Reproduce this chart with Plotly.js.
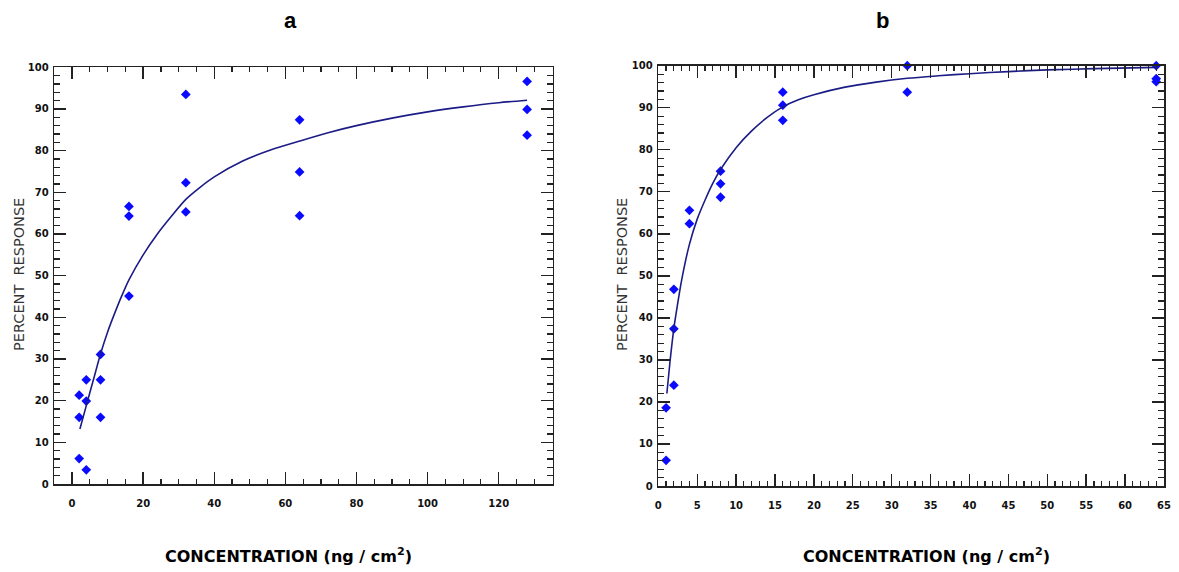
<!DOCTYPE html>
<html>
<head>
<meta charset="utf-8">
<script src="https://cdn.plot.ly/plotly-3.0.1.min.js"></script>
<style>
  html, body { margin: 0; padding: 0; background: #fff; }
  #chart { width: 1179px; height: 572px; }
</style>
</head>
<body>
<div id="chart"></div>
<script>
// Panel a data (measured points)
const aConc = [2, 2, 2, 4, 4, 4, 8, 8, 8, 16, 16, 16, 32, 32, 32, 64, 64, 64, 128, 128, 128];
const aResp = [21.3, 16, 6.1, 25, 19.9, 3.4, 31.1, 25, 16, 66.6, 64.3, 45.1, 93.5, 72.3, 65.3, 87.4, 74.9, 64.4, 96.6, 89.9, 83.7];
// Panel a fitted curve
const aFitX = [2.2, 4, 6, 8, 10, 12, 14, 16, 20, 24, 28, 32, 36, 40, 48, 56, 64, 72, 80, 90, 100, 110, 120, 128];
const aFitY = [13.2, 18.8, 25, 31.2, 36.5, 41, 45.2, 49, 55, 60, 64.3, 68.3, 71.2, 73.7, 77.5, 80.2, 82.3, 84.3, 86.0, 87.8, 89.3, 90.5, 91.5, 92.1];

// Panel b data (measured points)
const bConc = [1, 1, 2, 2, 2, 4, 4, 8, 8, 8, 16, 16, 16, 32, 32, 64, 64, 64];
const bResp = [18.6, 6.1, 46.8, 37.4, 24.0, 65.6, 62.4, 74.9, 71.9, 68.7, 93.7, 90.6, 87.0, 100, 93.7, 100, 96.9, 96.2];
// Panel b fitted curve
const bFitX = [1.1, 1.5, 2, 2.5, 3, 4, 5, 6, 7, 8, 10, 12, 14, 16, 18, 20, 24, 28, 32, 36, 40, 45, 50, 56, 64];
const bFitY = [22, 29.5, 37.5, 43.5, 49, 57.5, 63.5, 68, 72, 75.3, 80.5, 84.5, 87.7, 90.2, 91.9, 93.1, 94.9, 96.1, 97, 97.6, 98.1, 98.6, 99, 99.3, 99.6];

const panelTitles = ['a', 'b'];
const xTitle = 'CONCENTRATION (ng / cm<sup>2</sup>)';
const yTitle = 'PERCENT  RESPONSE';

const markerStyle = {symbol: 'diamond', size: 7.5, color: '#0a0aff'};
const lineStyle = {color: '#1c1c86', width: 1.6, shape: 'spline', smoothing: 0.8};

const traces = [
  {x: aConc, y: aResp, type: 'scatter', mode: 'markers', marker: markerStyle, xaxis: 'x', yaxis: 'y', cliponaxis: false},
  {x: aFitX, y: aFitY, type: 'scatter', mode: 'lines', line: lineStyle, xaxis: 'x', yaxis: 'y'},
  {x: bConc, y: bResp, type: 'scatter', mode: 'markers', marker: markerStyle, xaxis: 'x2', yaxis: 'y2', cliponaxis: false},
  {x: bFitX, y: bFitY, type: 'scatter', mode: 'lines', line: lineStyle, xaxis: 'x2', yaxis: 'y2'}
];

const W = 1179, H = 572;
const tickFont = {family: 'DejaVu Sans, sans-serif', size: 10, color: '#111', weight: 'bold'};
function axisBase(extra) {
  return Object.assign({
    showline: true, linecolor: '#222', linewidth: 1.6, mirror: 'ticks',
    ticks: 'inside', ticklen: 12, tickwidth: 1.4, tickcolor: '#222',
    showgrid: false, zeroline: false, tickfont: tickFont, fixedrange: true
  }, extra);
}
const titleFont = {family: 'Liberation Sans, Arial', size: 22, color: '#000', weight: 'bold'};
const xTitleFont = {family: 'DejaVu Sans, sans-serif', size: 16, color: '#000', weight: 'bold'};
const yTitleFont = {family: 'DejaVu Sans, sans-serif', size: 14.5, color: '#333'};

const layout = {
  width: W, height: H,
  margin: {l: 0, r: 0, t: 0, b: 0},
  paper_bgcolor: '#fff', plot_bgcolor: '#fff',
  showlegend: false,
  xaxis: axisBase({domain: [54.3 / W, 552.7 / W], range: [-5, 135.2], dtick: 20, tick0: 0,
    ticklabelstandoff: 9, anchor: 'y',
    minor: {dtick: 5, tick0: 0, ticks: 'inside', ticklen: 5, tickwidth: 1.2, tickcolor: '#222', showgrid: false}}),
  yaxis: axisBase({domain: [(H - 484) / H, (H - 67.3) / H], range: [0, 100], dtick: 10, anchor: 'x',
    ticklabelstandoff: 2,
    minor: {dtick: 2, ticks: 'inside', ticklen: 6, tickwidth: 1.2, tickcolor: '#222', showgrid: false}}),
  xaxis2: axisBase({domain: [658.3 / W, 1164 / W], range: [0, 65], dtick: 5, tick0: 0,
    ticklabelstandoff: 9, anchor: 'y2',
    minor: {dtick: 1, tick0: 0, ticks: 'inside', ticklen: 5, tickwidth: 1.2, tickcolor: '#222', showgrid: false}}),
  yaxis2: axisBase({domain: [(H - 486) / H, (H - 65.7) / H], range: [0, 100], dtick: 10, anchor: 'x2',
    ticklabelstandoff: 2,
    minor: {dtick: 2, ticks: 'inside', ticklen: 6, tickwidth: 1.2, tickcolor: '#222', showgrid: false}}),
  annotations: [
    {text: panelTitles[0], xref: 'paper', yref: 'paper', x: 290 / W, y: 1 - 20 / H, showarrow: false,
      xanchor: 'center', yanchor: 'middle', font: titleFont},
    {text: panelTitles[1], xref: 'paper', yref: 'paper', x: 882 / W, y: 1 - 20 / H, showarrow: false,
      xanchor: 'center', yanchor: 'middle', font: titleFont},
    {text: xTitle, xref: 'paper', yref: 'paper', x: 288 / W, y: 1 - 555 / H, showarrow: false,
      xanchor: 'center', yanchor: 'middle', font: xTitleFont},
    {text: xTitle, xref: 'paper', yref: 'paper', x: 926 / W, y: 1 - 555 / H, showarrow: false,
      xanchor: 'center', yanchor: 'middle', font: xTitleFont},
    {text: yTitle, xref: 'paper', yref: 'paper', x: 19 / W, y: 1 - 275 / H, showarrow: false, textangle: -90,
      xanchor: 'center', yanchor: 'middle', font: yTitleFont},
    {text: yTitle, xref: 'paper', yref: 'paper', x: 622 / W, y: 1 - 275 / H, showarrow: false, textangle: -90,
      xanchor: 'center', yanchor: 'middle', font: yTitleFont}
  ]
};

Plotly.newPlot('chart', traces, layout, {staticPlot: true, displayModeBar: false});
</script>
</body>
</html>
